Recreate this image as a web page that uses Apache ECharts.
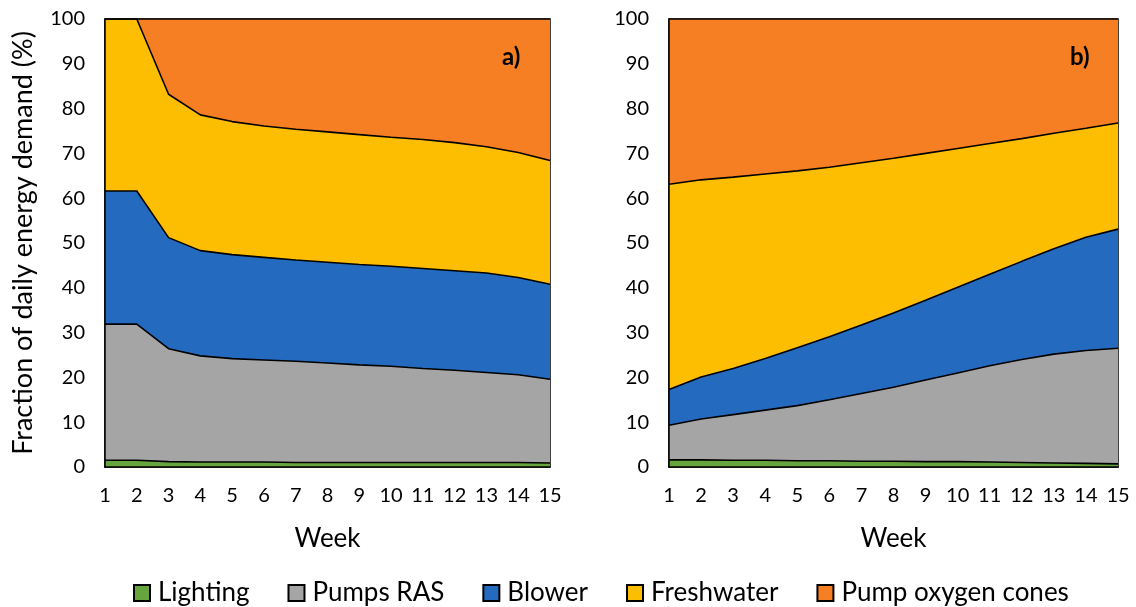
<!DOCTYPE html>
<html>
<head>
<meta charset="utf-8">
<script src="https://cdn.jsdelivr.net/npm/echarts@6/dist/echarts.min.js"></script>
<style>
html,body{margin:0;padding:0;background:#fff;}
#c{width:1136px;height:607px;}
</style>
</head>
<body>
<div id="c"></div>
<script>
const weeks = ['1','2','3','4','5','6','7','8','9','10','11','12','13','14','15'];
const yTicks = [0,10,20,30,40,50,60,70,80,90,100];
const seriesNames = ['Lighting','Pumps RAS','Blower','Freshwater','Pump oxygen cones'];
const seriesColors = ['#66a43e','#a5a5a5','#246bc0','#fdbd00','#f57f22'];

// Panel a) share of daily energy demand (%)
const lightingA = [1.5,1.5,1.2,1.1,1.1,1.1,1.0,1.0,1.0,1.0,1.0,1.0,1.0,1.0,0.9];
const pumpsRasA = [30.4,30.4,25.2,23.7,23.1,22.8,22.6,22.2,21.8,21.5,21.0,20.6,20.1,19.6,18.7];
const blowerA = [29.7,29.7,24.8,23.5,23.2,22.9,22.6,22.5,22.4,22.3,22.3,22.2,22.2,21.7,21.2];
const freshwaterA = [38.4,38.4,32.0,30.3,29.7,29.3,29.2,29.1,29.0,28.8,28.8,28.6,28.2,27.9,27.6];
const oxygenA = [0,0,16.8,21.4,22.9,23.9,24.6,25.2,25.8,26.4,26.9,27.6,28.5,29.8,31.6];

// Panel b)
const lightingB = [1.6,1.6,1.5,1.5,1.4,1.4,1.3,1.3,1.2,1.2,1.1,1.0,0.9,0.8,0.7];
const pumpsRasB = [7.7,9.1,10.2,11.2,12.3,13.6,15.1,16.5,18.2,19.8,21.5,23.0,24.3,25.2,25.8];
const blowerB = [8.0,9.4,10.3,11.5,12.9,14.1,15.3,16.6,17.8,19.1,20.4,21.9,23.5,25.3,26.6];
const freshwaterB = [45.8,44.0,42.7,41.2,39.5,37.8,36.2,34.5,32.8,31.0,29.2,27.4,25.8,24.3,23.7];
const oxygenB = [36.9,35.9,35.3,34.6,33.9,33.1,32.1,31.1,30.0,28.9,27.8,26.7,25.5,24.4,23.2];

const panelA = [lightingA,pumpsRasA,blowerA,freshwaterA,oxygenA];
const panelB = [lightingB,pumpsRasB,blowerB,freshwaterB,oxygenB];

const FONT = 'Lato';
const chart = echarts.init(document.getElementById('c'));

function mkSeries(panel, idx, stack){
  return panel.map((d,i)=>({
    name: seriesNames[i],
    type: 'line',
    stack: stack,
    xAxisIndex: idx, yAxisIndex: idx,
    data: d,
    symbol: 'none', showSymbol: false,
    color: seriesColors[i],
    itemStyle: {color: seriesColors[i], borderColor: '#000', borderWidth: 1.5},
    lineStyle: {color: '#000', width: 1.6},
    areaStyle: {color: seriesColors[i], opacity: 1},
    emphasis: {disabled: true},
    z: 2
  }));
}

function xAx(idx){
  return {
    type: 'category', gridIndex: idx, data: weeks, boundaryGap: false,
    name: 'Week', nameLocation: 'middle', nameGap: 59,
    nameTextStyle: {fontFamily: FONT, fontSize: 26, color: '#000'},
    axisLine: {show: true, lineStyle: {color: '#000', width: 1.5}},
    axisTick: {show: false},
    axisLabel: {fontFamily: FONT, fontSize: 20, color: '#000', margin: 19, interval: 0},
    splitLine: {show: false},
    z: 5
  };
}
function yAx(idx, withName){
  return {
    type: 'value', gridIndex: idx, min: yTicks[0], max: yTicks[yTicks.length-1], interval: 10,
    name: withName ? 'Fraction of daily energy demand (%)' : '',
    nameLocation: 'middle', nameGap: 68,
    nameTextStyle: {fontFamily: FONT, fontSize: 27, color: '#000'},
    axisLine: {show: true, lineStyle: {color: '#000', width: 1.5}},
    axisTick: {show: false},
    axisLabel: {fontFamily: FONT, fontSize: 20, color: '#000', margin: 20},
    splitLine: {show: false},
    z: 5
  };
}

chart.setOption({
  animation: false,
  backgroundColor: '#fff',
  title: [
    {text: 'a)', left: 497, top: 40, textStyle: {fontFamily: FONT, fontSize: 24, fontWeight: 'bold', color: '#000'}},
    {text: 'b)', left: 1065, top: 40, textStyle: {fontFamily: FONT, fontSize: 24, fontWeight: 'bold', color: '#000'}}
  ],
  grid: [
    {left: 105, right: 586, top: 19, bottom: 140, show: true, borderColor: '#000', borderWidth: 1.5, backgroundColor: 'transparent'},
    {left: 669, right: 18, top: 19, bottom: 140, show: true, borderColor: '#000', borderWidth: 1.5, backgroundColor: 'transparent'}
  ],
  legend: {
    data: seriesNames.map((n,i)=>({
      name: n, icon: 'rect',
      itemStyle: {color: seriesColors[i], borderColor: '#000', borderWidth: 2}
    })),
    left: 128, top: 575,
    icon: 'rect', itemWidth: 16, itemHeight: 16, itemGap: 38,
    itemStyle: {borderColor: '#000', borderWidth: 2},
    lineStyle: {width: 0},
    textStyle: {fontFamily: FONT, fontSize: 26, color: '#000', padding: [0,0,0,3]},
    selectedMode: false
  },
  xAxis: [xAx(0), xAx(1)],
  yAxis: [yAx(0,true), yAx(1,false)],
  series: mkSeries(panelA,0,'a').concat(mkSeries(panelB,1,'b'))
});
</script>
</body>
</html>
